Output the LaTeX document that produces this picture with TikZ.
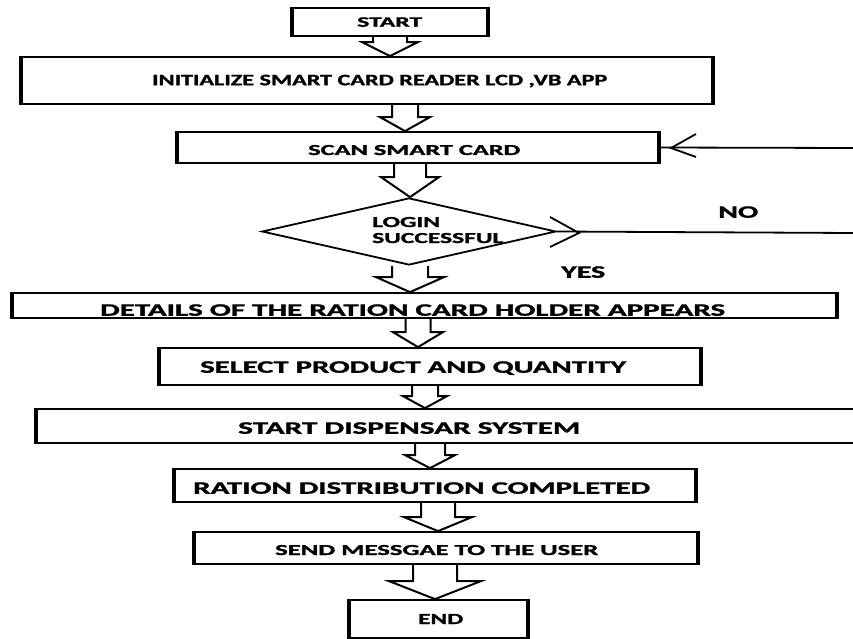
\documentclass[tikz,border=0pt]{standalone}
\usepackage{fontspec}
\setmainfont{Carlito}[BoldFeatures={FakeBold=1.2}]
\usepackage{graphicx}
\usetikzlibrary{shapes.geometric,calc}

\tikzset{
  box/.style={draw, rectangle, line width=1.8pt, inner sep=0pt},
  lbl/.style={inner sep=0pt, anchor=base west},
  blk/.style={draw, line width=2pt, line join=miter},
  conn/.style={line width=1.8pt},
  side/.style={line width=3.4pt},
}

% box from its corners: name, x1, y1, x2, y2
\newcommand\boxat[5]{%
  \node[box, minimum width={#4pt-#2pt}, minimum height={#5pt-#3pt}]
    (#1) at ({(#2+#4)/2},{(#3+#5)/2}) {};}

% label stretched to a given width and cap height: name, x, width, y, cap, text
\newcommand\txt[6]{%
  \node[lbl] (#1) at (#2,{#4+#5/2}) {\resizebox{#3pt}{#5pt}{\bfseries #6}};}

% hollow block arrow: from, to, x, shaft half width, head half width, head length
\newcommand\blockarrow[6]{%
  \coordinate (ax) at (#3,0);
  \draw[blk] let \p1=(#1.south -| ax), \p2=(#2.north -| ax) in
    ({\x1-#4pt},\y1) -- ({\x1-#4pt},{\y2+#6pt}) -- ({\x1-#5pt},{\y2+#6pt})
    -- (\x1,\y2) -- ({\x1+#5pt},{\y2+#6pt}) -- ({\x1+#4pt},{\y2+#6pt})
    -- ({\x1+#4pt},\y1);}

\begin{document}
\begin{tikzpicture}[x=1pt,y=-1pt]
\useasboundingbox (0,0) rectangle (853,639);
\fill[white] (0,0) rectangle (853,639);
\clip (0,0) rectangle (853,639);

% process boxes
\boxat{start}{293}{8}{487}{36}
\boxat{init}{22}{57}{712}{104}
\boxat{scan}{178}{132}{658}{163}
\node[draw, diamond, line width=1.8pt, minimum width=294pt, minimum height=67pt,
      inner sep=0pt] (dia) at (409,231.5) {};
\boxat{details}{13}{293}{836}{318}
\boxat{select}{160}{348}{700}{385}
\boxat{disp}{37}{409}{880}{443}
\boxat{ration}{175}{469}{695}{502}
\boxat{send}{195}{532}{697}{564}
\boxat{stop}{350}{600}{527}{638}

% heavier side edges of the boxes
\foreach \n in {start,init,scan,details,select,disp,ration,send,stop}{
  \draw[side] (\n.north west) -- (\n.south west);
  \draw[side] (\n.north east) -- (\n.south east);
}

% texts
\txt{t-start}{357}{65}{22}{9.5}{START}
\txt{t-init}{152}{455}{80}{10.5}{INITIALIZE SMART CARD READER LCD ,VB APP}
\txt{t-scan}{308}{212}{150}{10}{SCAN SMART CARD}
\txt{t-login}{372}{68}{222}{10}{LOGIN}
\txt{t-succ}{372}{131}{238}{10}{SUCCESSFUL}
\txt{t-no}{718}{40}{212}{11.5}{NO}
\txt{t-yes}{561}{44}{272}{11.5}{YES}
\txt{t-details}{100}{625}{310}{11.5}{DETAILS OF THE RATION CARD HOLDER APPEARS}
\txt{t-select}{200}{426}{367}{11.5}{SELECT PRODUCT AND QUANTITY}
\txt{t-disp}{238}{342}{428}{11.5}{START DISPENSAR SYSTEM}
\txt{t-ration}{193}{457}{488}{11.5}{RATION DISTRIBUTION COMPLETED}
\txt{t-send}{275}{323}{550}{10}{SEND MESSGAE TO THE USER}
\txt{t-stop}{418}{45}{619}{10}{END}

% block arrows down the main flow
\blockarrow{start}{init}{390}{17}{28}{14}
\blockarrow{init}{scan}{405}{13}{25}{14}
\blockarrow{scan}{dia}{410}{16}{29}{20}
\blockarrow{dia}{details}{410}{18}{34}{15}
\blockarrow{details}{select}{418}{12.5}{25}{15}
\blockarrow{select}{disp}{425}{13}{22}{12}
\blockarrow{disp}{ration}{430}{15}{25}{13}
\blockarrow{ration}{send}{438}{17}{34}{14}
\blockarrow{send}{stop}{435}{22}{46}{18}

% NO branch leaving the decision
\coordinate (noedge) at (853,233);
\coordinate (notip) at (579,233);
\draw[conn] (dia.east) -- (noedge);
\draw[conn] ([shift={(-29,-16)}]notip) -- (notip) -- ([shift={(-29,14)}]notip);

% return line into the scan step
\coordinate (loopedge) at (853,148);
\coordinate (looptip) at (671,148);
\draw[conn] (loopedge) -- (scan.east);
\draw[conn] ([shift={(25,-14)}]looptip) -- (looptip) -- ([shift={(25,9)}]looptip);
\end{tikzpicture}
\end{document}
